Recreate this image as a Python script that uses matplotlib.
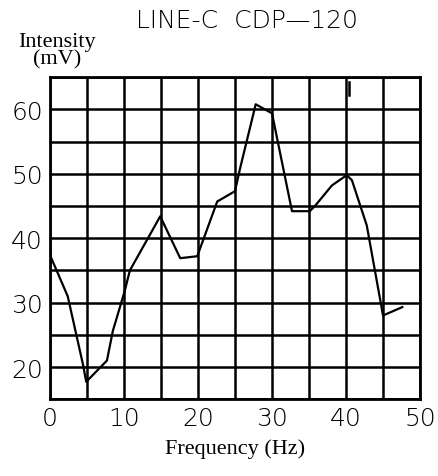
import matplotlib.pyplot as plt
import numpy as np

plt.rcParams.update({
    "figure.facecolor": "white",
    "axes.facecolor": "white",
    "font.family": "DejaVu Sans",
})

# Frequency response trace, read point by point
freq = [0, 2.4, 4.5, 4.9, 7.7, 8.5, 10.1, 10.8, 14.9, 17.6, 19.9, 22.6, 25.0,
        25.7, 27.8, 30.0, 32.7, 35.1, 35.8, 38.1, 40.1, 40.8, 42.8, 45.0, 47.6]
intensity = [37.4, 31.0, 20.2, 17.7, 21.0, 25.6, 31.8, 35.0, 43.4, 36.9, 37.2,
             45.7, 47.3, 50.9, 60.8, 59.4, 44.2, 44.2, 45.0, 48.2, 49.8, 49.0,
             42.0, 28.0, 29.3]

x_ticks = [0, 10, 20, 30, 40, 50]
y_ticks = [20, 30, 40, 50, 60]

fig = plt.figure(figsize=(4.38, 4.77), dpi=100)
ax = fig.add_axes([0.114, 0.161, 0.845, 0.675])

ax.plot(freq, intensity, color="black", lw=1.6, zorder=3)
# small pen mark near the top at 40 Hz
ax.plot([40.4, 40.4], [62.2, 64.2], color="black", lw=1.8, zorder=3)

ax.set_xlim(0, 50)
ax.set_ylim(15, 65)
ax.set_xticks(x_ticks)
ax.set_yticks(y_ticks)
ax.set_xticks(np.arange(0, 51, 5), minor=True)
ax.set_yticks(np.arange(15, 66, 5), minor=True)
ax.grid(which="both", color="black", lw=1.8)
ax.set_axisbelow(True)
ax.tick_params(which="both", length=0, labelsize=18, pad=5, colors="black")
for lab in ax.get_xticklabels() + ax.get_yticklabels():
    lab.set_fontweight("light")
for s in ax.spines.values():
    s.set_linewidth(2)

ax.set_xlabel("Frequency (Hz)", family="Liberation Serif", fontsize=16, labelpad=6)
fig.text(0.13, 0.893, "Intensity\n(mV)", family="Liberation Serif", fontsize=16,
         ha="center", va="center", linespacing=0.85)
fig.text(0.565, 0.955, "LINE-C  CDP\u2014120", fontsize=18, ha="center", va="center",
         fontweight="light", color="black")

plt.savefig("out.png", dpi=100, facecolor="white")
plt.close()
